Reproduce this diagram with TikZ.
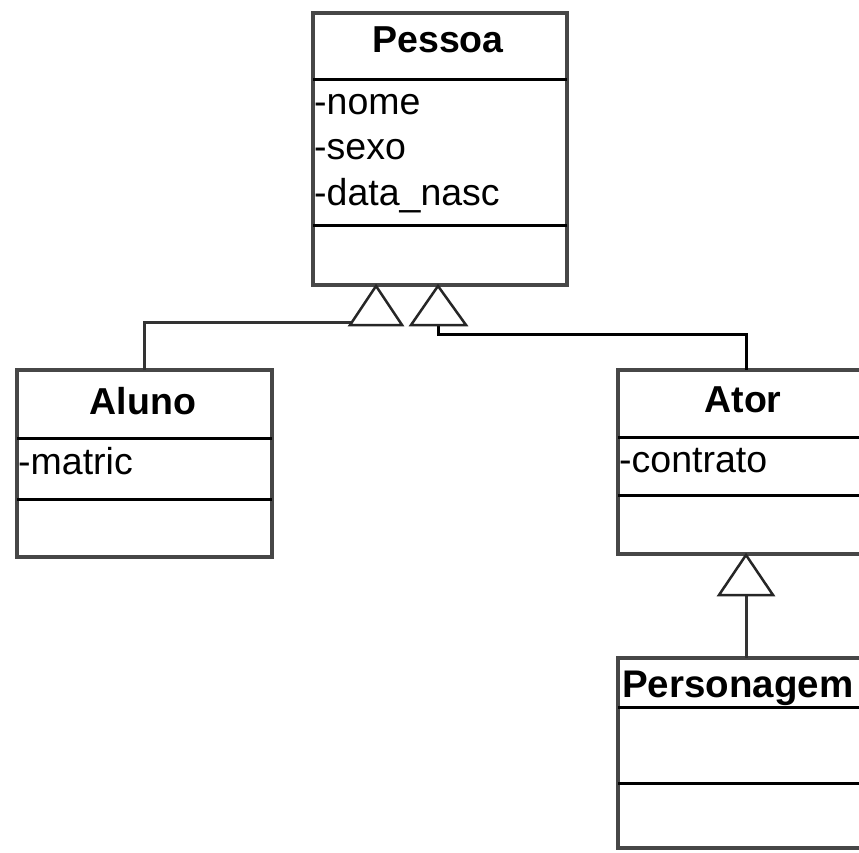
\documentclass[tikz,border=0pt]{standalone}
\usepackage{fontspec}
\setmainfont{Liberation Sans}
\begin{document}
\begin{tikzpicture}[x=1pt,y=-1pt,
  box/.style={draw=black!72, line width=3.5pt, rectangle, anchor=north west, inner sep=0pt, outer sep=0pt},
  sep/.style={draw=black, line width=3pt},
  title/.style={font=\fontsize{37.5}{44}\selectfont\bfseries, anchor=base, inner sep=0pt},
  attr/.style={font=\fontsize{37.5}{44}\selectfont, anchor=base west, inner sep=0pt},
  conn/.style={draw=black!80, line width=3pt},
  tri/.style={draw=black!85, line width=2.5pt, fill=white, line join=miter}]
\clip (0,0) rectangle (859,853);
\fill[white] (0,0) rectangle (859,853);

% Pessoa
\node[box, minimum width=254pt, minimum height=272pt] (pessoa) at (313,13) {};
\draw[sep] (pessoa.west |- 0,80) -- (pessoa.east |- 0,80);
\draw[sep] (pessoa.west |- 0,225) -- (pessoa.east |- 0,225);
\node[title] (pessoaT) at (438,53) {Pessoa};
\node[attr] (nome) at (314,115) {-nome};
\node[attr] (sexo) at (314,160) {-sexo};
\node[attr] (datan) at (314,205) {-data\_nasc};

% Aluno
\node[box, minimum width=255pt, minimum height=187pt] (aluno) at (17,370) {};
\draw[sep] (aluno.west |- 0,438) -- (aluno.east |- 0,438);
\draw[sep] (aluno.west |- 0,499) -- (aluno.east |- 0,499);
\node[title] (alunoT) at (143,414) {Aluno};
\node[attr] (matric) at (18,474) {-matric};

% Ator
\node[box, minimum width=256pt, minimum height=184pt] (ator) at (618,370) {};
\draw[sep] (ator.west |- 0,437) -- (ator.east |- 0,437);
\draw[sep] (ator.west |- 0,495) -- (ator.east |- 0,495);
\node[title] (atorT) at (743,412) {Ator};
\node[attr] (contrato) at (619,472) {-contrato};

% Personagem
\node[box, minimum width=256pt, minimum height=190pt] (perso) at (618,658) {};
\draw[sep] (perso.west |- 0,707) -- (perso.east |- 0,707);
\draw[sep] (perso.west |- 0,783) -- (perso.east |- 0,783);
\node[title, anchor=base west, font=\fontsize{38.5}{46}\selectfont\bfseries] (persoT) at (622,697) {Personagem};

% inheritance connectors
\coordinate (g1) at (351,322);
\coordinate (g2) at (438,325);
\coordinate (g3) at (746,595);
\draw[conn] (aluno.north) |- (g1);
\draw[conn, draw=black] (g2) -- ++(0,9) -| (ator.north);
\draw[conn] (g3) -- (perso.north);

% triangles
\draw[tri] (350,325) -- (376,286) -- (402,325) -- cycle;
\draw[tri] (411,325) -- (438,286) -- (466,325) -- cycle;
\draw[tri] (719,595) -- (746,555) -- (773,595) -- cycle;
\end{tikzpicture}
\end{document}
